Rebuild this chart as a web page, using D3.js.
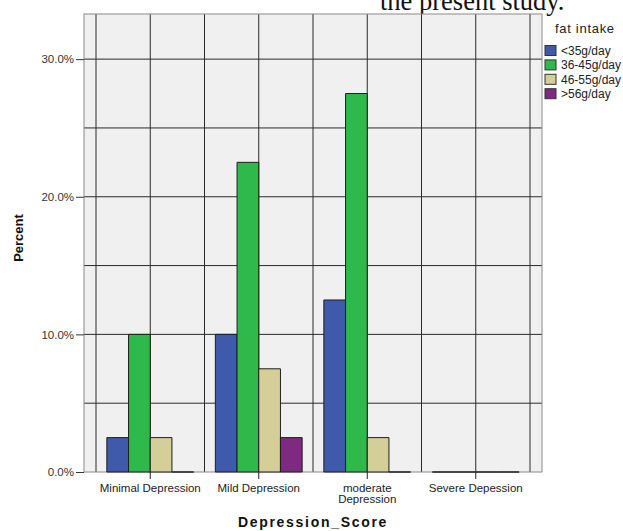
<!DOCTYPE html>
<html>
<head>
<meta charset="utf-8">
<script src="https://cdn.jsdelivr.net/npm/d3@7"></script>
<style>
  body { margin: 0; background: #ffffff; }
  svg { display: block; }
  text { font-family: "Liberation Sans", Arial, sans-serif; }
</style>
</head>
<body>
<svg id="chart" width="623" height="531"></svg>
<script>
// chart data
var categories = ["Minimal Depression", "Mild Depression", "moderate Depression", "Severe Depession"];
var categoryLines = [["Minimal Depression"], ["Mild Depression"], ["moderate", "Depression"], ["Severe Depession"]];
var seriesNames = ["<35g/day", "36-45g/day", "46-55g/day", ">56g/day"];
var seriesColors = ["#3f59ab", "#2fb94a", "#d4cf98", "#7e2a82"];
var lowFat = [2.5, 10.0, 12.5, 0];
var midFat = [10.0, 22.5, 27.5, 0];
var highFat = [2.5, 7.5, 2.5, 0];
var veryHighFat = [0, 2.5, 0, 0];
var yTicks = [0, 10, 20, 30];
var yGrid = [5, 10, 15, 20, 25, 30];

var seriesValues = [lowFat, midFat, highFat, veryHighFat];

var svg = d3.select("#chart");

var plot = { left: 84, right: 542, top: 14, bottom: 472 };

//////////////////////////////////////////////////////////////////////////////

// paper text cut off at the top of the screenshot
svg.append("text")
  .attr("x", 380)
  .attr("y", 10)
  .style("font-family", "'Liberation Serif', 'Times New Roman', serif")
  .style("font-size", "26.5px")
  .attr("fill", "#111")
  .text("the present study.");

var xScale = d3.scaleBand()
  .domain(categories)
  .range([plot.left + 12, plot.right - 12])
  .padding(0);

var xInner = d3.scaleBand()
  .domain(seriesNames)
  .range([0, xScale.bandwidth()])
  .paddingInner(0)
  .paddingOuter(0.5);

var yScale = d3.scaleLinear()
  .domain([0, 33.28])
  .range([plot.bottom, plot.top]);

// plot background
svg.append("rect")
  .attr("x", plot.left)
  .attr("y", plot.top)
  .attr("width", plot.right - plot.left)
  .attr("height", plot.bottom - plot.top)
  .attr("fill", "#f0f0f0");

// vertical grid: band edges and centres
var xGrid = [];
categories.forEach(function(c) {
  xGrid.push(xScale(c));
  xGrid.push(xScale(c) + xScale.bandwidth() / 2);
});
xGrid.push(xScale.range()[1]);

svg.append("g")
  .selectAll("line")
  .data(xGrid)
  .enter()
  .append("line")
  .attr("x1", function(d) { return d; })
  .attr("x2", function(d) { return d; })
  .attr("y1", plot.top)
  .attr("y2", plot.bottom)
  .attr("stroke", function(d, i) {
    return (i === 0 || i === xGrid.length - 1) ? "#6e6e6e" : "#2a2a2a";
  })
  .attr("stroke-width", function(d, i) {
    return (i === 0 || i === xGrid.length - 1) ? 1.5 : 1;
  });

// horizontal grid
svg.append("g")
  .selectAll("line")
  .data(yGrid)
  .enter()
  .append("line")
  .attr("x1", plot.left)
  .attr("x2", plot.right)
  .attr("y1", function(d) { return yScale(d); })
  .attr("y2", function(d) { return yScale(d); })
  .attr("stroke", "#2a2a2a")
  .attr("stroke-width", 1);

// frame
svg.append("rect")
  .attr("x", plot.left)
  .attr("y", plot.top)
  .attr("width", plot.right - plot.left)
  .attr("height", plot.bottom - plot.top)
  .attr("fill", "none")
  .attr("stroke", "#8a8a8a")
  .attr("stroke-width", 1);

// bars (paths so the zero values still show as a line)
var barData = [];
categories.forEach(function(c, i) {
  seriesNames.forEach(function(s, j) {
    barData.push({ cat: c, series: s, value: seriesValues[j][i], color: seriesColors[j] });
  });
});

svg.append("g")
  .selectAll("path")
  .data(barData)
  .enter()
  .append("path")
  .attr("class", "bar")
  .attr("d", function(d) {
    var x0 = xScale(d.cat) + xInner(d.series);
    var x1 = x0 + xInner.bandwidth();
    var y0 = yScale(0);
    var y1 = yScale(d.value);
    return "M" + x0 + "," + y0 + "V" + y1 + "H" + x1 + "V" + y0 + "Z";
  })
  .attr("fill", function(d) { return d.color; })
  .attr("stroke", "#1e1e1e")
  .attr("stroke-width", 1);

// y axis
var yAxis = svg.append("g")
  .attr("transform", "translate(" + plot.left + ",0)")
  .call(d3.axisLeft(yScale)
    .tickValues(yTicks)
    .tickSize(8)
    .tickPadding(2)
    .tickFormat(function(d) { return d.toFixed(1) + "%"; }));

yAxis.select(".domain").remove();
yAxis.selectAll("line").attr("stroke", "#333");
yAxis.selectAll("text")
  .style("font-family", "'Liberation Sans', Arial, sans-serif")
  .style("font-size", "11.5px")
  .attr("fill", "#333");

// x axis
var xAxis = svg.append("g")
  .attr("transform", "translate(0," + plot.bottom + ")")
  .call(d3.axisBottom(xScale).tickSize(7).tickFormat(""));

xAxis.select(".domain").remove();
xAxis.selectAll("line").attr("stroke", "#222");

var xLabels = svg.append("g")
  .selectAll("text")
  .data(categories)
  .enter()
  .append("text")
  .attr("x", function(d) { return xScale(d) + xScale.bandwidth() / 2; })
  .attr("y", 492)
  .style("text-anchor", "middle")
  .style("font-size", "11.5px")
  .attr("fill", "#222");

xLabels.each(function(d, i) {
  var t = d3.select(this);
  categoryLines[i].forEach(function(line, k) {
    t.append("tspan")
      .attr("x", xScale(d) + xScale.bandwidth() / 2)
      .attr("dy", k === 0 ? 0 : 11)
      .text(line);
  });
});

// text label for the y axis
svg.append("text")
  .attr("transform", "translate(23,238) rotate(-90)")
  .style("text-anchor", "middle")
  .style("font-size", "13px")
  .style("font-weight", "bold")
  .attr("fill", "#111")
  .text("Percent");

// text label for the x axis
svg.append("text")
  .attr("x", 313)
  .attr("y", 527)
  .style("text-anchor", "middle")
  .style("font-size", "14px")
  .style("font-weight", "bold")
  .style("letter-spacing", "1.7px")
  .attr("fill", "#111")
  .text("Depression_Score");

// legend
svg.append("text")
  .attr("x", 555)
  .attr("y", 33)
  .style("font-size", "13px")
  .style("letter-spacing", "0.7px")
  .attr("fill", "#222")
  .text("fat intake");

var legend = svg.append("g")
  .selectAll("g")
  .data(seriesNames)
  .enter()
  .append("g")
  .attr("transform", function(d, i) { return "translate(545," + (45.5 + i * 14.4) + ")"; });

legend.append("rect")
  .attr("width", 11)
  .attr("height", 10)
  .attr("fill", function(d, i) { return seriesColors[i]; })
  .attr("stroke", "#333")
  .attr("stroke-width", 1);

legend.append("text")
  .attr("x", 16)
  .attr("y", 9.5)
  .style("font-size", "12px")
  .attr("fill", "#222")
  .text(function(d) { return d; });
</script>
</body>
</html>
